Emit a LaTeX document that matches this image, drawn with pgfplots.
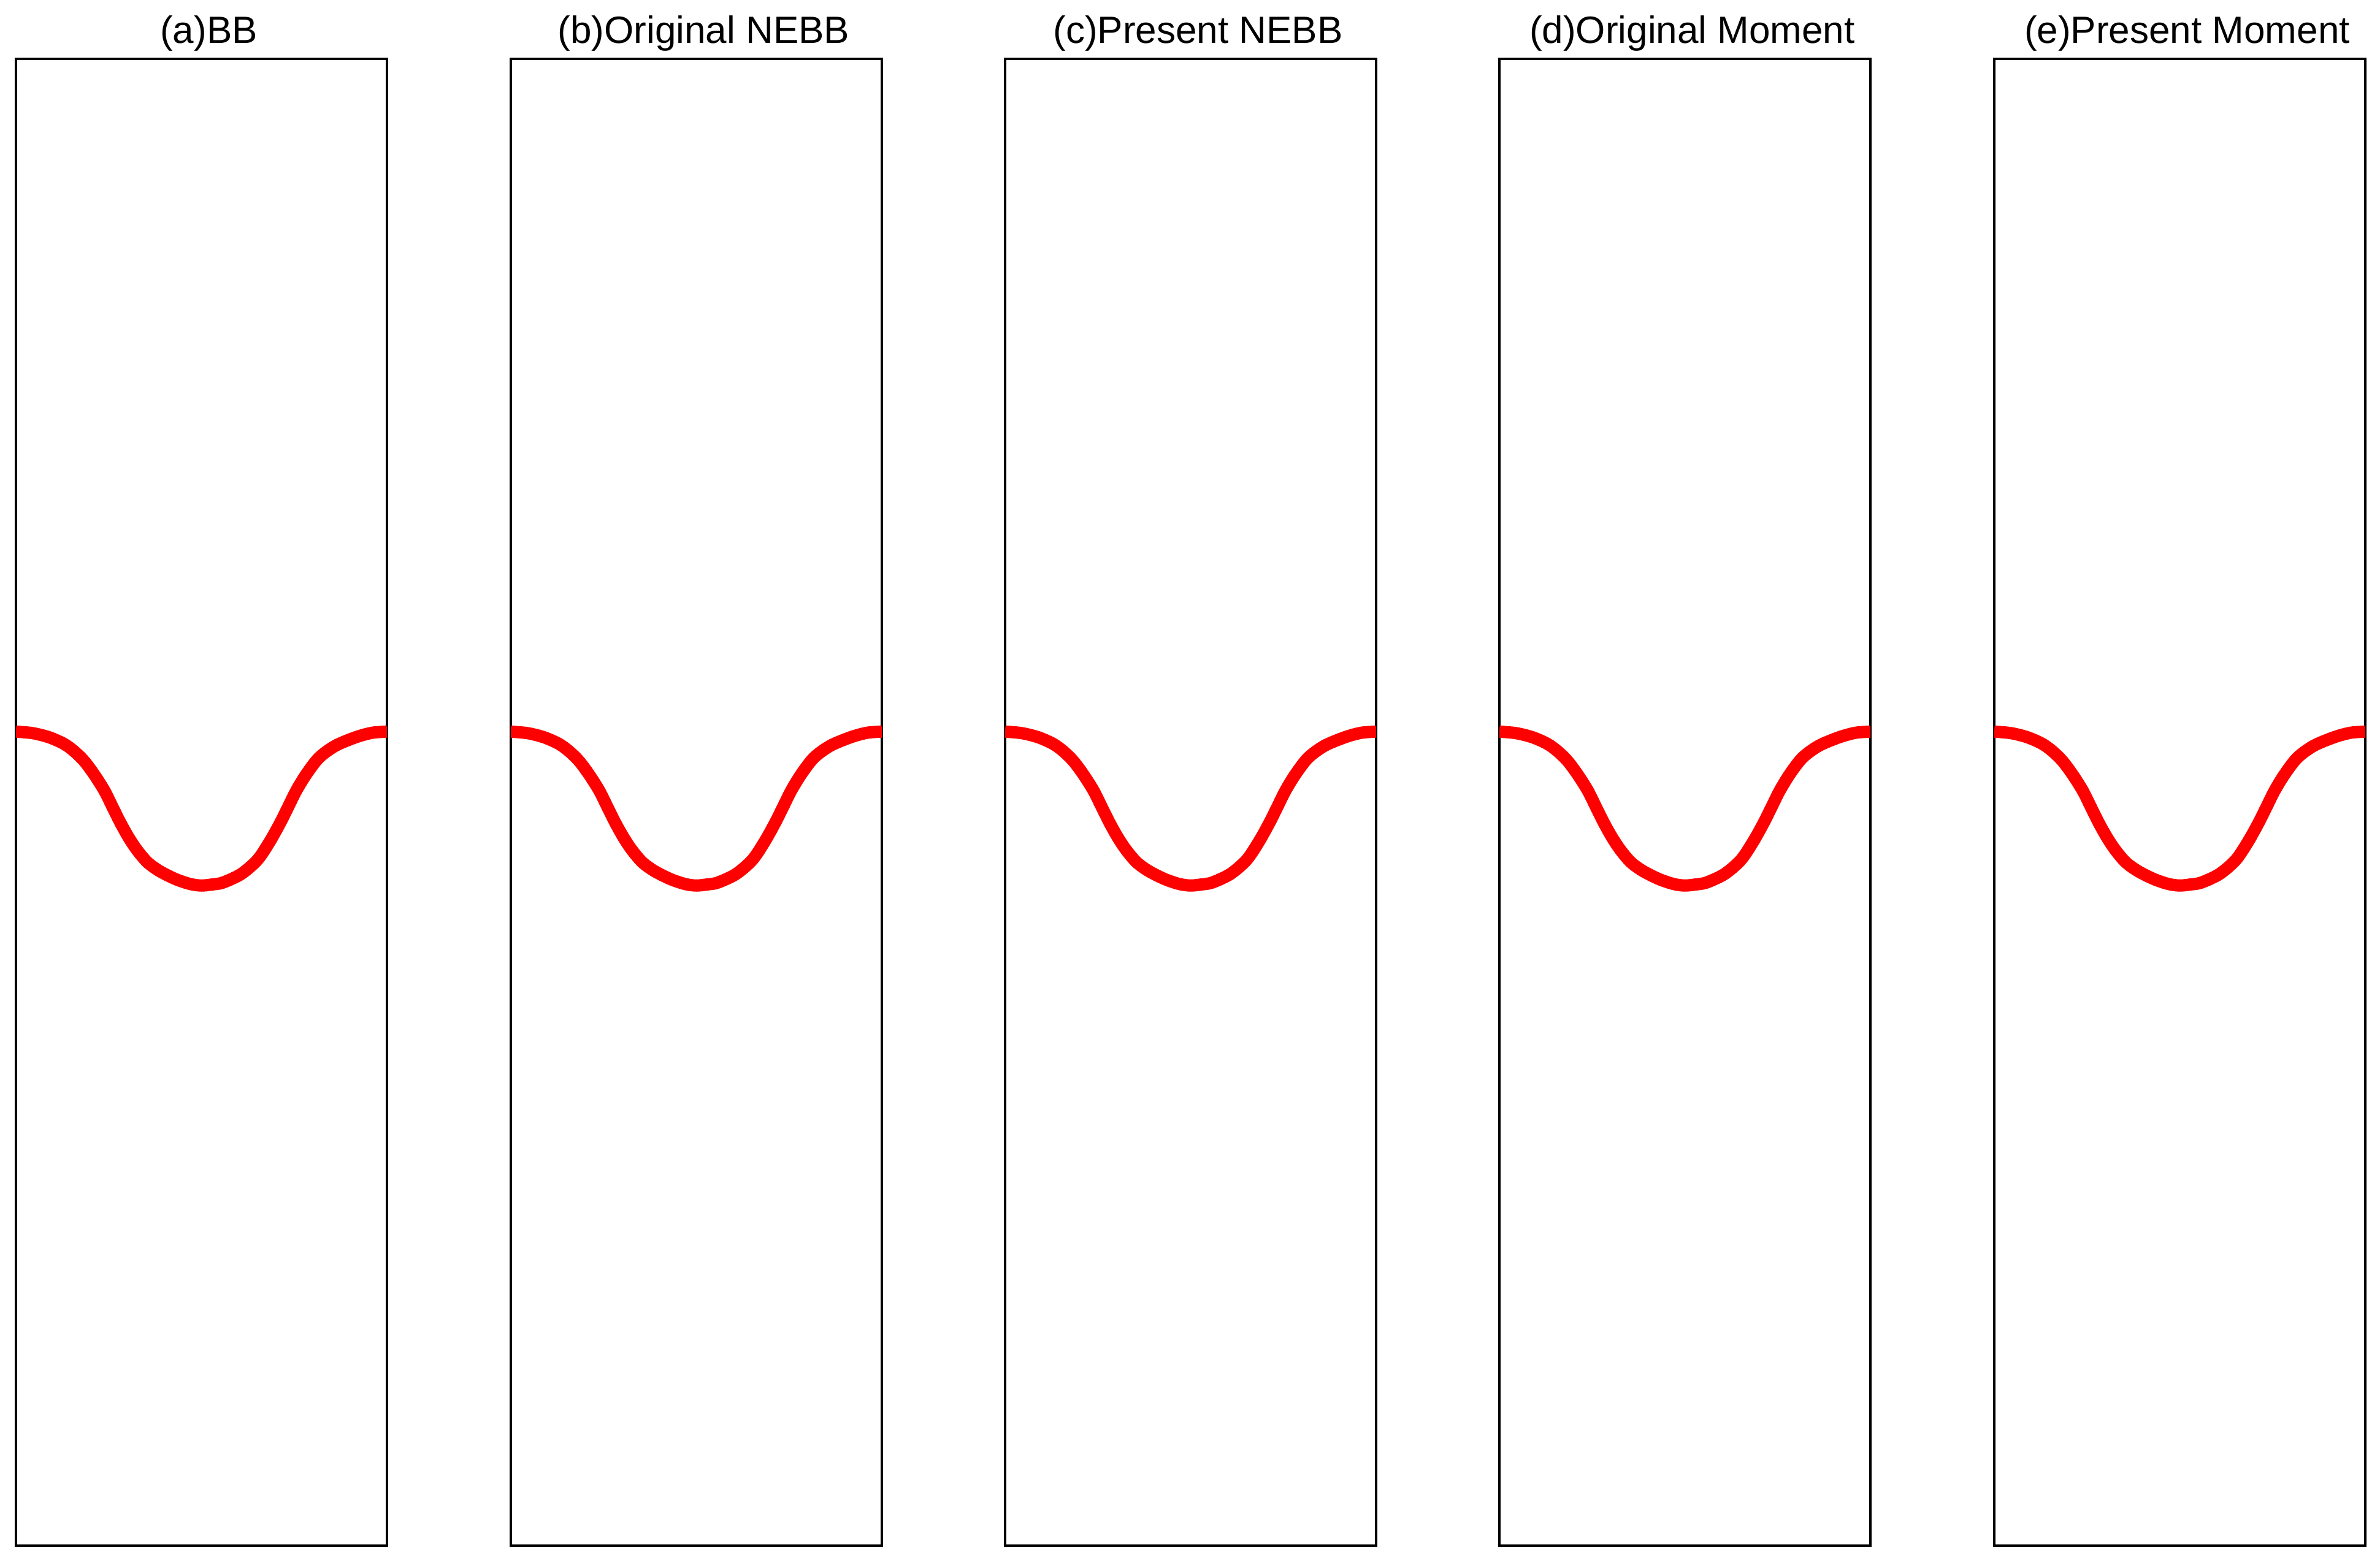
\documentclass[border=0pt]{standalone}
\usepackage{fontspec}
\setmainfont{Liberation Sans}
\usepackage{pgfplots}
\pgfplotsset{compat=1.18}
\usepackage{pgfplotstable}
\pgfplotstableread{
x y
0.000 2.190
0.045 2.186
0.089 2.175
0.128 2.158
0.155 2.139
0.183 2.112
0.210 2.076
0.238 2.032
0.260 1.988
0.282 1.944
0.304 1.905
0.326 1.872
0.354 1.839
0.387 1.815
0.431 1.793
0.470 1.780
0.500 1.776
0.530 1.779
0.558 1.784
0.607 1.807
0.651 1.845
0.684 1.894
0.712 1.944
0.734 1.988
0.756 2.032
0.783 2.076
0.817 2.120
0.861 2.152
0.916 2.175
0.960 2.187
1.000 2.190
}\interface
\pgfplotsset{
  panel/.style={
    scale only axis, width=60.5pt, height=242.4pt,
    anchor=south west,
    xmin=0, xmax=1, ymin=0, ymax=4,
    xtick=\empty, ytick=\empty,
    axis line style={line width=0.4pt},
    every axis title/.style={at={(0.5,1)}, anchor=base, yshift=2.6pt, xshift=1.2pt,
      inner sep=0pt, font=\fontsize{6.2}{7}\selectfont},
  }
}
\begin{document}
\begin{tikzpicture}
\path (0pt,0pt) rectangle (388.1pt,254.4pt);
\begin{axis}[panel, at={(2.6pt,2.4pt)}, title={(a)BB}]
\addplot[red, line width=2pt, smooth, tension=0.5] table {\interface};
\end{axis}
\begin{axis}[panel, at={(83.3pt,2.4pt)}, title={(b)Original NEBB}]
\addplot[red, line width=2pt, smooth, tension=0.5] table {\interface};
\end{axis}
\begin{axis}[panel, at={(163.9pt,2.4pt)}, title={(c)Present NEBB}]
\addplot[red, line width=2pt, smooth, tension=0.5] table {\interface};
\end{axis}
\begin{axis}[panel, at={(244.5pt,2.4pt)}, title={(d)Original Moment}]
\addplot[red, line width=2pt, smooth, tension=0.5] table {\interface};
\end{axis}
\begin{axis}[panel, at={(325.2pt,2.4pt)}, title={(e)Present Moment}]
\addplot[red, line width=2pt, smooth, tension=0.5] table {\interface};
\end{axis}
\end{tikzpicture}
\end{document}
